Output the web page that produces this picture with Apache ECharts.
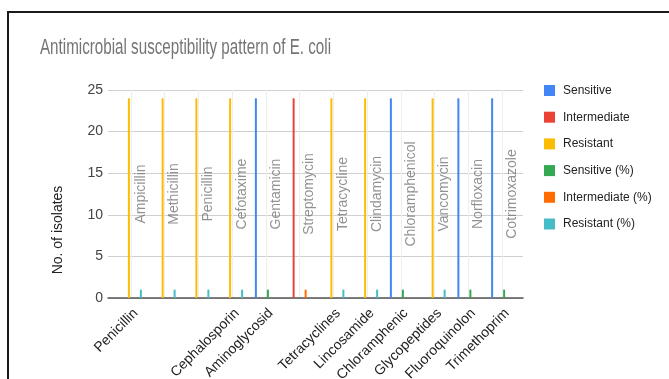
<!DOCTYPE html>
<html>
<head>
<meta charset="utf-8">
<script src="https://cdn.jsdelivr.net/npm/echarts@6/dist/echarts.min.js"></script>
<style>
  html, body { margin: 0; padding: 0; background: #fff; }
  #chart { width: 669px; height: 379px; }
</style>
</head>
<body>
<div id="chart"></div>
<script>
const titleText = 'Antimicrobial susceptibility pattern of E. coli';
const yAxisTitle = 'No. of isolates';
const classes = ['Penicillin', '', '', 'Cephalosporin', 'Aminoglycosid', '', 'Tetracyclines', 'Lincosamide', 'Chloramphenic', 'Glycopeptides', 'Fluoroquinolon', 'Trimethoprim'];
const drugs = ['Ampicillin', 'Methicillin', 'Penicillin', 'Cefotaxime', 'Gentamicin', 'Streptomycin', 'Tetracycline', 'Clindamycin', 'Chloramphenicol', 'Vancomycin', 'Norfloxacin', 'Cotrimoxazole'];
const sensitive       = [0, 0, 0, 0, 24, 0, 0, 0, 24, 0, 24, 24];
const intermediate    = [0, 0, 0, 0, 0, 24, 0, 0, 0, 0, 0, 0];
const resistant       = [24, 24, 24, 24, 0, 0, 24, 24, 0, 24, 0, 0];
const sensitivePct    = [0, 0, 0, 0, 1, 0, 0, 0, 1, 0, 1, 1];
const intermediatePct = [0, 0, 0, 0, 0, 1, 0, 0, 0, 0, 0, 0];
const resistantPct    = [1, 1, 1, 1, 0, 0, 1, 1, 0, 1, 0, 0];
const seriesNames = ['Sensitive', 'Intermediate', 'Resistant', 'Sensitive (%)', 'Intermediate (%)', 'Resistant (%)'];
const yTicks = { min: 0, max: 25, interval: 5 };

const colors = ['#4285F4', '#EA4335', '#FBBC04', '#34A853', '#FF6D01', '#46BDC6'];
const valueSets = [sensitive, intermediate, resistant, sensitivePct, intermediatePct, resistantPct];
const REG = '"Liberation Sans", Arial, sans-serif';

const chart = echarts.init(document.getElementById('chart'), null, { renderer: 'canvas' });

const barSeries = seriesNames.map((n, i) => ({
  name: n,
  type: 'bar',
  xAxisIndex: 0,
  yAxisIndex: 0,
  data: valueSets[i],
  barWidth: 2,
  barGap: '100%',
  itemStyle: { color: colors[i] },
  z: 3
}));

const labelSeries = {
  name: 'drugLabels',
  type: 'scatter',
  xAxisIndex: 0,
  yAxisIndex: 0,
  data: drugs.map(() => (yTicks.max - yTicks.min) / 2),
  symbolSize: 0,
  silent: true,
  z: 4,
  label: {
    show: true,
    position: 'inside',
    rotate: 90,
    offset: [0, 10],
    formatter: p => drugs[p.dataIndex],
    color: '#757575',
    fontSize: 14,
    fontFamily: REG
  }
};

chart.setOption({
  animation: false,
  backgroundColor: '#ffffff',
  legend: {
    data: seriesNames,
    orient: 'vertical',
    left: 544,
    top: 83.5,
    padding: 0,
    icon: 'rect',
    itemWidth: 11,
    itemHeight: 11,
    itemGap: 12.7,
    textStyle: { color: '#222', fontSize: 12, lineHeight: 14, fontFamily: REG, padding: [0, 0, 0, 3] }
  },
  grid: [
    { left: 114, right: 150, top: 90, bottom: 81, outerBoundsMode: 'none', containLabel: false },
    { left: 108, right: 146, top: 90, bottom: 81, outerBoundsMode: 'none', containLabel: false }
  ],
  xAxis: [
    {
      type: 'category',
      gridIndex: 0,
      data: classes,
      axisLine: { show: false },
      axisTick: { show: false },
      splitLine: { show: true, alignWithLabel: true, lineStyle: { color: '#eeeeee', width: 1 } },
      axisLabel: {
        interval: 0,
        rotate: 45,
        margin: 8,
        verticalAlign: 'top',
        color: '#222',
        fontSize: 14,
        fontFamily: REG
      }
    },
    {
      type: 'value',
      gridIndex: 1,
      min: 0,
      max: 1,
      axisLine: { show: true, lineStyle: { color: '#555', width: 1.5 } },
      axisTick: { show: false },
      axisLabel: { show: false },
      splitLine: { show: false }
    }
  ],
  yAxis: [
    {
      type: 'value',
      gridIndex: 0,
      min: yTicks.min,
      max: yTicks.max,
      interval: yTicks.interval,
      axisLine: { show: false },
      axisTick: { show: false },
      splitLine: { show: false },
      axisLabel: { color: '#444', fontSize: 14, fontFamily: REG, margin: 11 }
    },
    {
      type: 'value',
      gridIndex: 1,
      min: yTicks.min,
      max: yTicks.max,
      interval: yTicks.interval,
      axisLine: { show: false },
      axisTick: { show: false },
      axisLabel: { show: false },
      splitLine: { show: true, lineStyle: { color: '#d0d0d0', width: 1 } }
    }
  ],
  graphic: [
    {
      type: 'rect',
      shape: { x: 8, y: 12, width: 720, height: 420 },
      style: { fill: 'none', stroke: '#1a1a1a', lineWidth: 2 },
      silent: true,
      z: 100
    },
    {
      type: 'text',
      x: 40,
      y: 37,
      scaleX: 0.706,
      style: {
        text: titleText,
        fill: '#757575',
        fontSize: 21.5,
        fontFamily: REG,
        align: 'left',
        verticalAlign: 'top'
      }
    },
    {
      type: 'text',
      x: 58,
      y: 230,
      rotation: Math.PI / 2,
      style: {
        text: yAxisTitle,
        fill: '#222',
        fontSize: 14,
        fontFamily: REG,
        align: 'center',
        verticalAlign: 'middle'
      }
    }
  ],
  series: barSeries.concat([labelSeries])
});
</script>
</body>
</html>
